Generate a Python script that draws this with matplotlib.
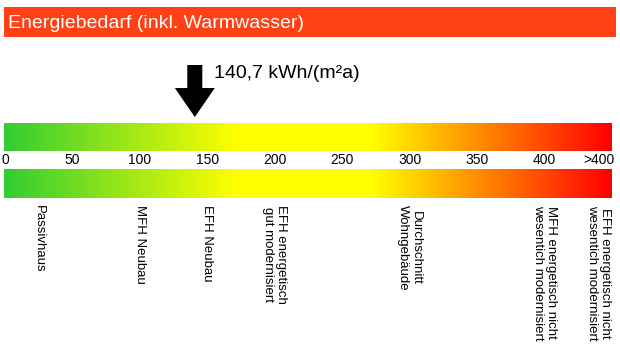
import numpy as np
import matplotlib
matplotlib.use("Agg")
import matplotlib.pyplot as plt
from matplotlib.colors import LinearSegmentedColormap
from matplotlib.patches import Rectangle, FancyArrow

plt.rcParams['font.family'] = ['Liberation Sans', 'DejaVu Sans']

# --- Daten ---
titel = "Energiebedarf (inkl. Warmwasser)"
wert = 140.7
wert_text = "140,7 kWh/(m²a)"

skala_werte = [0, 50, 100, 150, 200, 250, 300, 350, 400, 440]
skala_labels = ["0", "50", "100", "150", "200", "250", "300", "350", "400", ">400"]

kategorie_werte = [25, 100, 150, 200, 300, 400, 440]
kategorie_labels = [
    "Passivhaus",
    "MFH Neubau",
    "EFH Neubau",
    "EFH energetisch\ngut modernisiert",
    "Durchschnitt\nWohngebäude",
    "MFH energetisch nicht\nwesentich modernisiert",
    "EFH energetisch nicht\nwesentich modernisiert",
]

# Farbverlauf (Wert, Farbe)
verlauf_werte = [0, 172, 272, 450]
verlauf_farben = ["#33cc33", "#ffff00", "#ffff00", "#ff0000"]

# --- Layout (x in kWh, y in Pixel) ---
PX_PRO_KWH = 1.349
X0 = 5.0
B, H = 620, 353
x_min = -X0 / PX_PRO_KWH
x_max = (B - X0) / PX_PRO_KWH
bar_links = (4 - X0) / PX_PRO_KWH
bar_rechts = (612 - X0) / PX_PRO_KWH
kopf_rechts = (616 - X0) / PX_PRO_KWH

fig = plt.figure(figsize=(B / 100, H / 100), dpi=100)
ax = fig.add_axes([0, 0, 1, 1])
ax.set_xlim(x_min, x_max)
ax.set_ylim(H, 0)
ax.axis('off')

# Kopfzeile
ax.add_patch(Rectangle((bar_links, 7.3), kopf_rechts - bar_links, 30,
                       facecolor="#ff4115", edgecolor="none"))
ax.text(bar_links + 4 / PX_PRO_KWH, 23, titel, color="white", fontsize=14,
        ha="left", va="center")

# Farbverlauf-Balken
pos = [(v - verlauf_werte[0]) / (verlauf_werte[-1] - verlauf_werte[0]) for v in verlauf_werte]
cmap = LinearSegmentedColormap.from_list("energie", list(zip(pos, verlauf_farben)))
grad = np.linspace(0, 1, 600).reshape(1, -1)
for y0, y1 in [(123.3, 151), (170, 198.3)]:
    ax.imshow(grad, cmap=cmap, aspect="auto", interpolation="bilinear",
              extent=(bar_links, bar_rechts, y1, y0))
ax.set_xlim(x_min, x_max)
ax.set_ylim(H, 0)

# Skala
for v, lab in zip(skala_werte, skala_labels):
    ax.text(v, 160.5, lab, fontsize=10, ha="center", va="center")

# Pfeil
ax.add_patch(FancyArrow(wert, 65, 0, 117 - 65, width=15 / PX_PRO_KWH,
                        head_width=40 / PX_PRO_KWH, head_length=29,
                        length_includes_head=True, color="black", lw=0))
ax.text(wert + 19 / PX_PRO_KWH, 73.5, wert_text, fontsize=14, ha="left", va="center")

# Kategorien
for v, lab in zip(kategorie_werte, kategorie_labels):
    ax.text(v, 205, lab, fontsize=9.5, rotation=270, ha="center", va="top",
            linespacing=1.15)

fig.savefig("out.png", dpi=100)
